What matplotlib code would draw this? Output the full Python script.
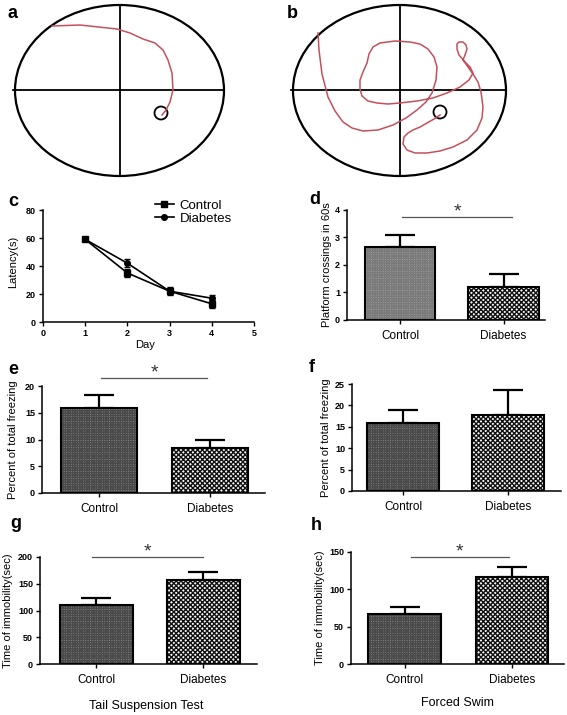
import matplotlib.pyplot as plt
from matplotlib.patches import Ellipse, Circle
from matplotlib.lines import Line2D

W, H = 567, 715

# ---- data ----
groups = ["Control", "Diabetes"]

days = [1, 2, 3, 4]
latency_control = [59, 35, 22, 13]
latency_control_err = [1, 3, 3, 3]
latency_diabetes = [59, 42, 22, 17]
latency_diabetes_err = [1, 3, 2, 2]

crossings = [2.65, 1.2]
crossings_err = [0.45, 0.48]

freezing_e = [15.8, 8.5]
freezing_e_err = [2.6, 1.4]

freezing_f = [16.0, 17.8]
freezing_f_err = [3.0, 5.7]

tail_immobility = [110, 157]
tail_immobility_err = [14, 15]

swim_immobility = [67, 116]
swim_immobility_err = [10, 14]

# swim paths (traced, image pixel coords)
path_a_x = [52, 80, 117, 130, 143, 155, 163, 168, 172, 173, 170, 166, 162]
path_a_y = [26, 25, 29, 33, 39, 43, 50, 60, 73, 90, 102, 110, 115]
path_b_x = [318, 319, 322, 328, 335, 343, 352, 363, 378, 393, 406, 417, 426, 432, 436,
            437, 434, 428, 420, 410, 395, 380, 373, 369, 367, 363, 360, 360, 362, 368,
            377, 388, 400, 417, 433, 447, 460, 469, 473, 470, 465, 459, 457, 457, 459,
            463, 466, 467, 465, 463, 468, 473, 478, 481, 483, 482, 477, 467, 453, 440,
            427, 415, 407, 403, 404, 408, 413, 420, 427, 434, 440]
path_b_y = [33, 50, 74, 97, 111, 122, 128, 131, 130, 125, 118, 110, 102, 93, 80,
            67, 57, 49, 44, 42, 41, 43, 47, 54, 63, 72, 80, 89, 96, 101,
            103, 104, 103, 101, 98, 93, 87, 80, 73, 67, 62, 55, 49, 44, 42,
            42, 45, 49, 55, 60, 67, 74, 82, 92, 107, 118, 130, 140, 147, 151,
            153, 153, 150, 144, 137, 133, 130, 127, 123, 119, 115]


def fx(px):
    return px / W


def fy(py):
    return 1 - py / H


def axes_px(fig, x0, x1, y0, y1):
    return fig.add_axes([fx(x0), fy(y1), (x1 - x0) / W, (y1 - y0) / H])


plt.rcParams["font.family"] = ["Liberation Sans", "DejaVu Sans"]
plt.rcParams["hatch.linewidth"] = 1.0

fig = plt.figure(figsize=(W / 100, H / 100), dpi=100)


def style(ax):
    ax.spines["top"].set_visible(False)
    ax.spines["right"].set_visible(False)
    ax.spines["left"].set_linewidth(1.1)
    ax.spines["bottom"].set_linewidth(1.1)
    ax.tick_params(direction="out", length=3, width=1, labelsize=6.5, pad=2)
    for t in ax.get_yticklabels():
        t.set_fontweight("bold")


# ---- a, b: swim paths ----
top = fig.add_axes([0, fy(190), 1, 190 / H])
top.set_xlim(0, W)
top.set_ylim(190, 0)
top.axis("off")
for cx, rx, px, py, plat in [(119.5, 104.5, path_a_x, path_a_y, (161, 113)),
                            (399.5, 106.5, path_b_x, path_b_y, (440, 112))]:
    top.add_patch(Ellipse((cx, 90.5), 2 * rx, 171, fill=False, lw=1.6, color="black"))
    top.plot([cx - rx - 2, cx + rx], [90, 90], color="black", lw=1.3)
    top.plot([cx, cx], [5, 176], color="black", lw=1.3)
    top.plot(px, py, color="#c4505c", lw=1.1)
    top.add_patch(Circle(plat, 6.5, fill=False, lw=1.3, color="black"))
fig.text(fx(8), fy(13), "a", fontsize=13, fontweight="bold", va="center")
fig.text(fx(287), fy(13), "b", fontsize=13, fontweight="bold", va="center")

# ---- c: latency ----
ax = axes_px(fig, 43, 254, 210, 322)
ax.errorbar(days, latency_control, yerr=latency_control_err, color="black", marker="s",
            ms=4.5, lw=1.2, capsize=2.5)
ax.errorbar(days, latency_diabetes, yerr=latency_diabetes_err, color="black", marker="o",
            ms=4, lw=1.2, capsize=2.5)
ax.set_xlim(0, 5)
ax.set_ylim(0, 80)
ax.set_xticks(range(0, 6))
ax.set_yticks([0, 20, 40, 60, 80])
style(ax)
for t in ax.get_xticklabels():
    t.set_fontweight("bold")
handles = [Line2D([], [], color="black", marker="s", ms=4.5, lw=1.2),
           Line2D([], [], color="black", marker="o", ms=4, lw=1.2)]
fig.legend(handles, groups, loc="upper left", bbox_to_anchor=(fx(148), fy(193)),
           frameon=False, fontsize=9.5, handlelength=1.5, borderpad=0, labelspacing=0.05,
           handletextpad=0.4)
fig.text(fx(145), fy(345), "Day", fontsize=8, ha="center", va="center")
fig.text(fx(13), fy(262), "Latency(s)", fontsize=8, rotation=90, ha="center", va="center")
fig.text(fx(8), fy(202), "c", fontsize=13, fontweight="bold", va="center")


# ---- bar panels ----
def bar_panel(box, xlim, ylim, yticks, vals, errs, width, ylabel, ylab_x, letter, letter_xy,
              sig=None, ctrl_face="#8a8a8a", ctrl_hatch="#4a4a4a"):
    ax = axes_px(fig, *box)
    x = [0, 1]
    # fills with hatch (hatch colour follows edgecolor), then black outline on top
    ax.bar(x[0], vals[0], width, facecolor=ctrl_face, edgecolor=ctrl_hatch, lw=0,
           hatch="+++++++", zorder=2)
    ax.bar(x[1], vals[1], width, facecolor="#f4f4f4", edgecolor="#111111", lw=0,
           hatch="xxxxxxx", zorder=2)
    ax.bar(x, vals, width, fill=False, edgecolor="black", lw=1.5, zorder=3)
    ax.errorbar(x, vals, yerr=[[0, 0], errs], fmt="none", ecolor="black", elinewidth=1.6,
                capsize=11, capthick=1.6, zorder=1)
    ax.set_xlim(*xlim)
    ax.set_ylim(*ylim)
    ax.set_yticks(yticks)
    ax.set_xticks(x)
    ax.set_xticklabels(groups)
    style(ax)
    ax.tick_params(axis="x", labelsize=8.5, pad=4)
    if sig is not None:
        x0, x1, yv = sig
        ax.plot([x0, x1], [yv, yv], color="#555555", lw=0.9, clip_on=False)
        ax.text((x0 + x1) / 2, yv - (ylim[1] * 0.03), "*", fontsize=14, ha="center",
                va="bottom", color="#333333", clip_on=False)
    cy = (box[2] + box[3]) / 2
    fig.text(fx(ylab_x), fy(cy), ylabel, fontsize=8, rotation=90, ha="center", va="center")
    fig.text(fx(letter_xy[0]), fy(letter_xy[1]), letter, fontsize=13, fontweight="bold",
             va="center")
    return ax


bar_panel((347, 545, 210, 320), (-0.512, 1.40), (0, 4), [0, 1, 2, 3, 4], crossings,
          crossings_err, 0.68, "Platform crossings in 60s", 327, "d", (309, 200),
          sig=(0.02, 1.08, 3.75), ctrl_face="#a4a4a4", ctrl_hatch="#7a7a7a")
bar_panel((42, 265, 386, 493), (-0.514, 1.495), (0, 20), [0, 5, 10, 15, 20], freezing_e,
          freezing_e_err, 0.685, "Percent of total freezing", 13, "e", (8, 369),
          sig=(0.02, 0.97, 21.5))
bar_panel((352, 561, 384, 491), (-0.486, 1.505), (0, 25), [0, 5, 10, 15, 20, 25], freezing_f,
          freezing_f_err, 0.686, "Percent of total freezing", 326, "f", (309, 368))
bar_panel((40, 257, 557, 664), (-0.528, 1.5), (0, 200), [0, 50, 100, 150, 200],
          tail_immobility, tail_immobility_err, 0.68, "Time of immobility(sec)", 8,
          "g", (10, 523), sig=(-0.04, 1.0, 200))
bar_panel((351, 564, 552, 664), (-0.498, 1.484), (0, 150), [0, 50, 100, 150],
          swim_immobility, swim_immobility_err, 0.674, "Time of immobility(sec)", 320,
          "h", (311, 525), sig=(0.06, 0.97, 143))
fig.text(fx(146), fy(706), "Tail Suspension Test", fontsize=9, ha="center", va="center")
fig.text(fx(457), fy(703), "Forced Swim", fontsize=9, ha="center", va="center")

fig.savefig("out.png", dpi=100)
